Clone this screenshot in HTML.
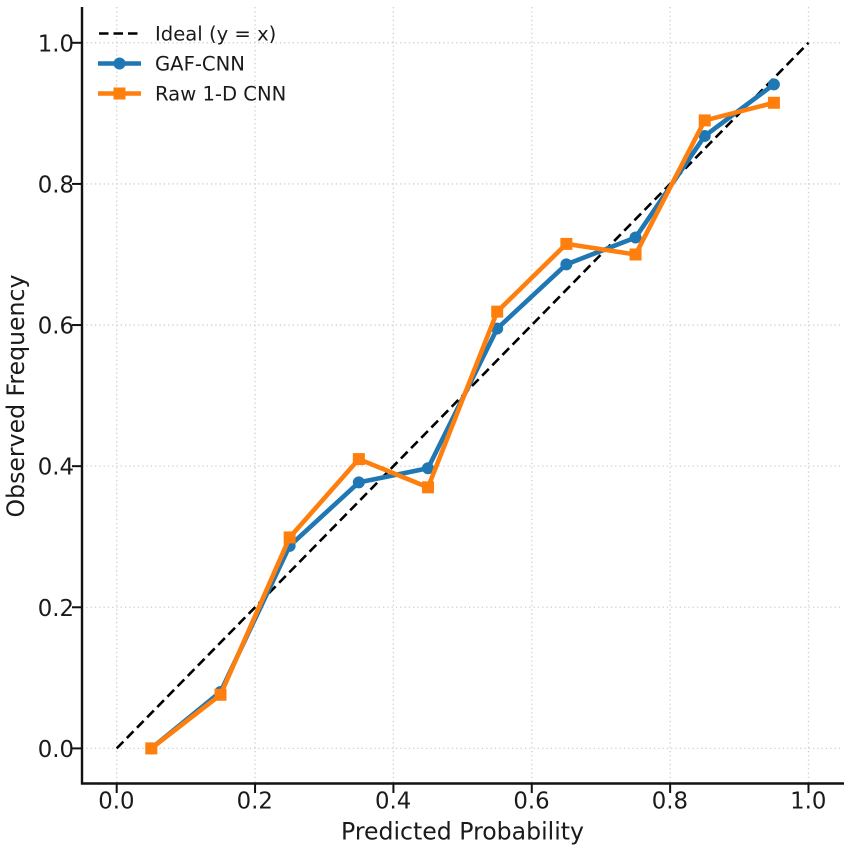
<!DOCTYPE html>
<html lang="en">
<head>
<meta charset="utf-8">
<title>Calibration curve</title>
<style>
html,body{margin:0;padding:0;background:#fff;}
svg{display:block;}
text{font-family:"DejaVu Sans","Liberation Sans",sans-serif;fill:#1a1a1a;}
</style>
</head>
<body>
<svg id="chart" width="851" height="850" viewBox="0 0 851 850" xmlns="http://www.w3.org/2000/svg"></svg>
<script>
var tickLabelsX = ['0.0', '0.2', '0.4', '0.6', '0.8', '1.0'];
var tickLabelsY = ['0.0', '0.2', '0.4', '0.6', '0.8', '1.0'];
var tickValues = [0, 0.2, 0.4, 0.6, 0.8, 1];
var idealX = [0, 1];
var idealY = [0, 1];
var binCenters = [0.05, 0.15, 0.25, 0.35, 0.45, 0.55, 0.65, 0.75, 0.85, 0.95];
var gafCnn = [0.0, 0.08, 0.287, 0.377, 0.397, 0.595, 0.686, 0.724, 0.868, 0.941];
var rawCnn = [0.0, 0.076, 0.299, 0.410, 0.370, 0.619, 0.715, 0.700, 0.890, 0.915];

var svg = document.getElementById('chart');
var NS = 'http://www.w3.org/2000/svg';
function xScale(v) { return 116.7 + v * 691.8; }
function yScale(v) { return 748.4 - v * 705.6; }
function make(tag, attrs, parent) {
  var el = document.createElementNS(NS, tag);
  for (var k in attrs) el.setAttribute(k, attrs[k]);
  (parent || svg).appendChild(el);
  return el;
}
function pointsOf(xs, ys) {
  return xs.map(function (x, i) { return xScale(x).toFixed(2) + ',' + yScale(ys[i]).toFixed(2); }).join(' ');
}

tickValues.forEach(function (v, i) {
  var gx = make('line', {x1: xScale(v), x2: xScale(v), y1: 7, y2: 783, stroke: '#cfcfcf', 'stroke-width': 1.3, 'stroke-dasharray': '1.3 3'});
  
  
  var gy = make('line', {x1: 82, x2: 843, y1: yScale(v), y2: yScale(v), stroke: '#cfcfcf', 'stroke-width': 1.3, 'stroke-dasharray': '1.3 3'});
  
  

  var tx = make('line', {x1: xScale(v), x2: xScale(v), y1: 783, y2: 793, stroke: '#111', 'stroke-width': 2});
  
  
  var ty = make('line', {x1: 72, x2: 82, y1: yScale(v), y2: yScale(v), stroke: '#111', 'stroke-width': 2});
  
  

  var lx = make('text', {x: xScale(v) - 0.3, y: 808.5, 'text-anchor': 'middle', 'font-size': 22.8});
  
  
  lx.textContent = tickLabelsX[i];
  var ly = make('text', {x: 74, y: yScale(v) + 8.5, 'text-anchor': 'end', 'font-size': 22.8});
  
  
  ly.textContent = tickLabelsY[i];
});

var spineL = make('line', {x1: 82, x2: 82, y1: 7, y2: 784.5, stroke: '#111', 'stroke-width': 2.4});


var spineB = make('line', {x1: 81, x2: 844, y1: 783.5, y2: 783.5, stroke: '#111', 'stroke-width': 2.4});



var ideal = make('polyline', {points: pointsOf(idealX, idealY), fill: 'none', stroke: '#000', 'stroke-width': 2.6, 'stroke-dasharray': '9.5 5'});



var gafLine = make('polyline', {points: pointsOf(binCenters, gafCnn), fill: 'none', stroke: '#1f77b4', 'stroke-width': 4.6, 'stroke-linejoin': 'round'});


binCenters.forEach(function (x, i) {
  var c = make('circle', {cx: xScale(x), cy: yScale(gafCnn[i]), r: 6, fill: '#1f77b4'});
  
  
});

var rawLine = make('polyline', {points: pointsOf(binCenters, rawCnn), fill: 'none', stroke: '#ff7f0e', 'stroke-width': 4.6, 'stroke-linejoin': 'round'});


binCenters.forEach(function (x, i) {
  var r = make('rect', {x: xScale(x) - 6, y: yScale(rawCnn[i]) - 6, width: 12, height: 12, fill: '#ff7f0e'});
  
  
});

var xt = make('text', {x: 462.5, y: 839.5, 'text-anchor': 'middle', 'font-size': 23.6});


xt.textContent = 'Predicted Probability';
var yt = make('text', {x: 24, y: 396, 'text-anchor': 'middle', 'font-size': 23.6, transform: 'rotate(-90 24 396)'});


yt.textContent = 'Observed Frequency';

var legend = make('g', {});


var l1 = make('line', {x1: 99, x2: 140, y1: 33.5, y2: 33.5, stroke: '#000', 'stroke-width': 2.6, 'stroke-dasharray': '9.5 5'}, legend);


var t1 = make('text', {x: 155, y: 40.5, 'font-size': 19.6}, legend);


t1.textContent = 'Ideal (y = x)';
var l2 = make('line', {x1: 98, x2: 141, y1: 63.5, y2: 63.5, stroke: '#1f77b4', 'stroke-width': 4.6}, legend);


var m2 = make('circle', {cx: 119.5, cy: 63.5, r: 6, fill: '#1f77b4'}, legend);


var t2 = make('text', {x: 155, y: 70.5, 'font-size': 19.6}, legend);


t2.textContent = 'GAF-CNN';
var l3 = make('line', {x1: 98, x2: 141, y1: 93.5, y2: 93.5, stroke: '#ff7f0e', 'stroke-width': 4.6}, legend);


var m3 = make('rect', {x: 113.5, y: 87.5, width: 12, height: 12, fill: '#ff7f0e'}, legend);


var t3 = make('text', {x: 155, y: 100.5, 'font-size': 19.6}, legend);


t3.textContent = 'Raw 1-D CNN';
</script>
</body>
</html>
